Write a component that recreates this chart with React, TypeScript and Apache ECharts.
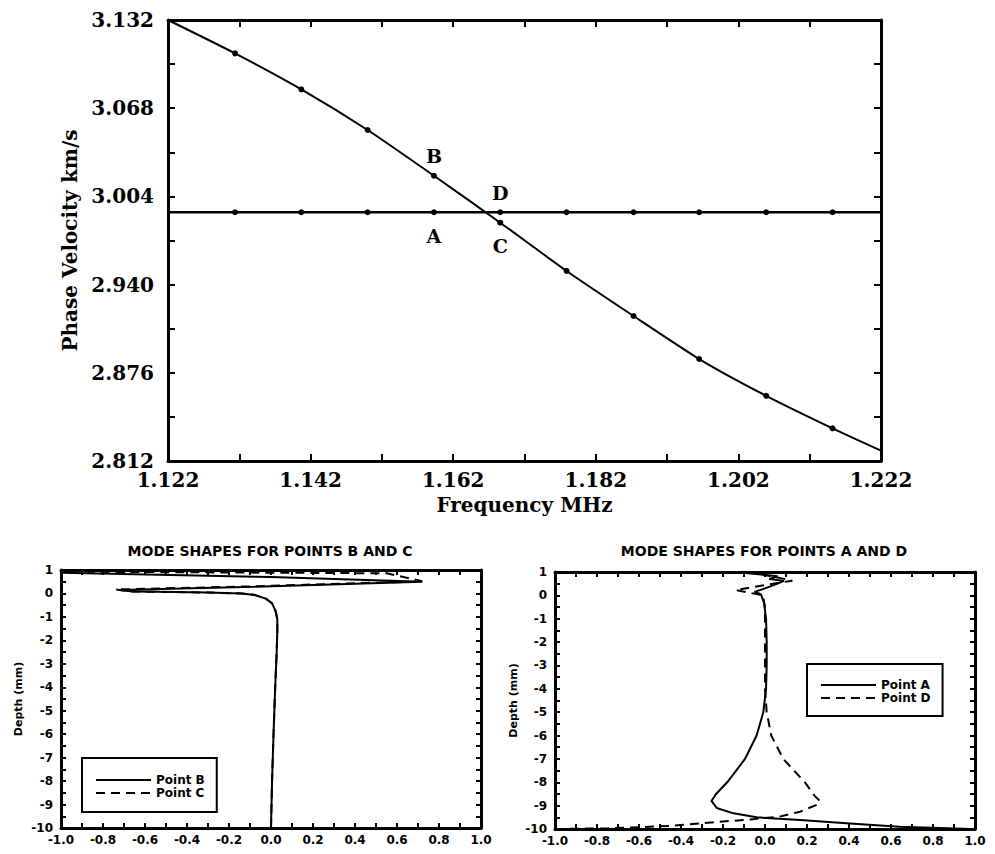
import React, { useEffect, useRef } from "react";
import * as echarts from "echarts";

// ---------- Top chart data ----------
const frequency = [1.122, 1.1314, 1.1407, 1.15, 1.1593, 1.1686, 1.1779, 1.1873, 1.1965, 1.2059, 1.2152, 1.222];
const velocityCurve = [3.132, 3.1078, 3.0817, 3.0522, 3.019, 2.9849, 2.9499, 2.9172, 2.886, 2.8593, 2.8357, 2.8195];
const velocityFlat = [2.9925, 2.9925, 2.9925, 2.9925, 2.9925, 2.9925, 2.9925, 2.9925, 2.9925, 2.9925, 2.9925, 2.9925];
const freqLabels = [1.122, 1.142, 1.162, 1.182, 1.202, 1.222];
const freqTicks = [1.122, 1.132, 1.142, 1.152, 1.162, 1.172, 1.182, 1.192, 1.202, 1.212, 1.222];
const velLabels = [2.812, 2.876, 2.94, 3.004, 3.068, 3.132];
const velTicks = [2.812, 2.844, 2.876, 2.908, 2.94, 2.972, 3.004, 3.036, 3.068, 3.1, 3.132];
const curveLabels: Record<number, [string, string]> = { 4: ["B", "top"], 5: ["C", "bottom"] };
const flatLabels: Record<number, [string, string]> = { 4: ["A", "bottom"], 5: ["D", "top"] };

// ---------- Mode shapes B and C ----------
const ampB = [0.0, 0.005, 0.012, 0.02, 0.027, 0.03, 0.03, 0.022, 0.005, -0.025, -0.075, -0.14, -0.3, -0.54, -0.66, -0.72, -0.076, 0.72, 0.0, -1.0];
const depthB = [-10, -8, -6, -4, -2.5, -1.6, -1.1, -0.75, -0.42, -0.22, -0.07, 0.0, 0.04, 0.07, 0.08, 0.15, 0.29, 0.5, 0.7, 0.88];
const ampC = [0.0, 0.005, 0.012, 0.02, 0.027, 0.03, 0.03, 0.022, 0.005, -0.025, -0.075, -0.14, -0.3, -0.55, -0.68, -0.74, -0.1, 0.72, 0.55, -1.0];
const depthC = [-10, -8, -6, -4, -2.5, -1.6, -1.1, -0.75, -0.42, -0.22, -0.07, 0.0, 0.04, 0.07, 0.09, 0.17, 0.3, 0.52, 0.86, 0.93];

// ---------- Mode shapes A and D ----------
const ampA = [0.98, 0.64, 0.405, 0.167, -0.04, -0.15, -0.23, -0.255, -0.233, -0.18, -0.095, -0.04, -0.008, 0.005, 0.008, 0.008, 0.005, -0.005, -0.02, -0.05, 0.0, 0.06, 0.09, 0.02, 0.06, -0.03, -0.1];
const depthA = [-10, -9.9, -9.76, -9.62, -9.5, -9.33, -9.1, -8.8, -8.5, -8.0, -7.0, -6.0, -5.0, -4.0, -3.0, -2.0, -1.0, -0.3, 0.05, 0.15, 0.3, 0.5, 0.62, 0.7, 0.82, 0.9, 0.97];
const ampD = [-1.0, -0.75, -0.45, -0.31, -0.07, 0.07, 0.167, 0.25, 0.262, 0.238, 0.19, 0.087, 0.03, 0.008, 0.0, 0.0, 0.0, -0.01, -0.14, 0.0, 0.13, 0.04, -0.04, -0.18];
const depthD = [-10, -9.97, -9.87, -9.76, -9.59, -9.47, -9.26, -8.95, -8.8, -8.6, -8.0, -7.0, -6.0, -5.0, -4.0, -2.0, -0.5, 0.0, 0.23, 0.44, 0.63, 0.8, 0.94, 0.99];

const SERIF = "DejaVu Serif";
const SANS = "DejaVu Sans";

const zip = (a: number[], b: number[]) => a.map((v, i) => [v, b[i]]);

function topPoints(vals: number[], labels: Record<number, [string, string]>) {
  return frequency.map((f, i) => {
    const item: any = { value: [f, vals[i]] };
    if (i === 0 || i === frequency.length - 1) item.symbol = "none";
    const lab = labels[i];
    if (lab) {
      item.label = {
        show: true,
        formatter: lab[0],
        position: lab[1],
        distance: lab[1] === "top" ? 7 : 11,
        fontFamily: SERIF,
        fontWeight: "bold",
        fontSize: 19,
        color: "#000",
      };
    }
    return item;
  });
}

function smallAxesX(grid: number) {
  const base = {
    gridIndex: grid,
    type: "value",
    min: -1,
    max: 1,
    interval: 0.2,
    splitLine: { show: false },
    axisLine: { onZero: false, lineStyle: { color: "#000", width: 3 } },
    axisTick: { inside: true, length: 5, lineStyle: { color: "#000", width: 2 } },
    minorTick: { show: true, splitNumber: 2, length: 5, lineStyle: { color: "#000", width: 2 } },
  };
  return [
    {
      ...base,
      position: "bottom",
      axisLabel: {
        margin: 6,
        formatter: (v: number) => v.toFixed(1),
        fontFamily: SANS,
        fontWeight: "bold",
        fontSize: 12,
        color: "#000",
      },
    },
    { ...base, position: "top", axisLabel: { show: false } },
  ];
}

function smallAxesY(grid: number, gap: number) {
  const base = {
    gridIndex: grid,
    type: "value",
    min: -10,
    max: 1,
    interval: 1,
    splitLine: { show: false },
    axisLine: { onZero: false, lineStyle: { color: "#000", width: 3 } },
    axisTick: { inside: true, length: 5, lineStyle: { color: "#000", width: 2 } },
    minorTick: { show: true, splitNumber: 2, length: 5, lineStyle: { color: "#000", width: 2 } },
  };
  return [
    {
      ...base,
      position: "left",
      name: "Depth (mm)",
      nameLocation: "middle",
      nameGap: gap,
      nameTextStyle: { fontFamily: SANS, fontWeight: "bold", fontSize: 11, color: "#000" },
      axisLabel: {
        margin: 8,
        fontFamily: SANS,
        fontWeight: "bold",
        fontSize: 12,
        color: "#000",
      },
    },
    { ...base, position: "right", axisLabel: { show: false } },
  ];
}

function legendCfg(names: string[], left: number, top: number, pad: number[]) {
  return {
    data: names,
    left,
    top,
    orient: "vertical",
    itemWidth: 55,
    itemHeight: 10,
    itemGap: 1,
    padding: pad,
    borderColor: "#000",
    borderWidth: 2,
    selectedMode: false,
    itemStyle: { color: "rgba(0,0,0,0)", borderWidth: 0, opacity: 0 },
    textStyle: { fontFamily: SANS, fontWeight: "bold", fontSize: 12, color: "#000", lineHeight: 12 },
  };
}

export default function App() {
  const ref = useRef<HTMLDivElement>(null);
  useEffect(() => {
    if (!ref.current) return;
    const chart = echarts.init(ref.current, undefined, { renderer: "svg" });
    const topAxisLine = { onZero: false, lineStyle: { color: "#000", width: 3 } };
    const topTick = { inside: true, length: 7, lineStyle: { color: "#000", width: 2 } };
    const titleStyle = { fontFamily: SANS, fontWeight: "bold", fontSize: 14, color: "#000" };
    const option: any = {
      animation: false,
      backgroundColor: "#fff",
      title: [
        { text: "MODE SHAPES FOR POINTS B AND C", left: 270, top: 544, textAlign: "center", padding: 0, textStyle: titleStyle },
        { text: "MODE SHAPES FOR POINTS A AND D", left: 764, top: 544, textAlign: "center", padding: 0, textStyle: titleStyle },
      ],
      legend: [
        legendCfg(["Point B", "Point C"], 82, 758, [16, 12, 13, 13]),
        legendCfg(["Point A", "Point D"], 807, 664, [15, 12, 12, 13]),
      ],
      grid: [
        { left: 168, top: 20, width: 713, height: 441 },
        { left: 61, top: 570, width: 420, height: 258 },
        { left: 555, top: 572, width: 420, height: 257 },
      ],
      xAxis: [
        {
          gridIndex: 0,
          type: "value",
          position: "bottom",
          min: 1.122,
          max: 1.222,
          splitLine: { show: false },
          axisLine: topAxisLine,
          axisTick: { ...topTick, customValues: freqTicks },
          axisLabel: {
            customValues: freqLabels,
            formatter: (v: number) => v.toFixed(3),
            margin: 9,
            fontFamily: SERIF,
            fontWeight: "bold",
            fontSize: 20,
            color: "#000",
          },
          name: "Frequency MHz",
          nameLocation: "middle",
          nameGap: 34,
          nameTextStyle: { fontFamily: SERIF, fontWeight: "bold", fontSize: 20, color: "#000" },
        },
        {
          gridIndex: 0,
          type: "value",
          position: "top",
          min: 1.122,
          max: 1.222,
          splitLine: { show: false },
          axisLine: topAxisLine,
          axisTick: { ...topTick, customValues: freqTicks },
          axisLabel: { show: false },
        },
        ...smallAxesX(1),
        ...smallAxesX(2),
      ],
      yAxis: [
        {
          gridIndex: 0,
          type: "value",
          position: "left",
          min: 2.812,
          max: 3.132,
          splitLine: { show: false },
          axisLine: topAxisLine,
          axisTick: { ...topTick, customValues: velTicks },
          axisLabel: {
            customValues: velLabels,
            formatter: (v: number) => v.toFixed(3),
            margin: 14,
            fontFamily: SERIF,
            fontWeight: "bold",
            fontSize: 20,
            color: "#000",
          },
          name: "Phase Velocity km/s",
          nameLocation: "middle",
          nameGap: 86,
          nameTextStyle: { fontFamily: SERIF, fontWeight: "bold", fontSize: 20, color: "#000" },
        },
        {
          gridIndex: 0,
          type: "value",
          position: "right",
          min: 2.812,
          max: 3.132,
          splitLine: { show: false },
          axisLine: topAxisLine,
          axisTick: { ...topTick, customValues: velTicks },
          axisLabel: { show: false },
        },
        ...smallAxesY(1, 37),
        ...smallAxesY(2, 36),
      ],
      series: [
        {
          type: "line",
          xAxisIndex: 0,
          yAxisIndex: 0,
          data: topPoints(velocityCurve, curveLabels),
          smooth: 0.2,
          symbol: "circle",
          symbolSize: 6,
          itemStyle: { color: "#000" },
          lineStyle: { color: "#000", width: 2 },
          z: 3,
        },
        {
          type: "line",
          xAxisIndex: 0,
          yAxisIndex: 0,
          data: topPoints(velocityFlat, flatLabels),
          symbol: "circle",
          symbolSize: 6,
          itemStyle: { color: "#000" },
          lineStyle: { color: "#000", width: 2.5 },
          z: 3,
        },
        {
          name: "Point B",
          type: "line",
          xAxisIndex: 2,
          yAxisIndex: 2,
          data: zip(ampB, depthB),
          symbol: "none",
          lineStyle: { color: "#000", width: 2 },
          itemStyle: { color: "#000" },
        },
        {
          name: "Point C",
          type: "line",
          xAxisIndex: 2,
          yAxisIndex: 2,
          data: zip(ampC, depthC),
          symbol: "none",
          lineStyle: { color: "#000", width: 2, type: [9, 6] },
          itemStyle: { color: "#000" },
        },
        {
          name: "Point A",
          type: "line",
          xAxisIndex: 4,
          yAxisIndex: 4,
          data: zip(ampA, depthA),
          symbol: "none",
          lineStyle: { color: "#000", width: 2 },
          itemStyle: { color: "#000" },
        },
        {
          name: "Point D",
          type: "line",
          xAxisIndex: 4,
          yAxisIndex: 4,
          data: zip(ampD, depthD),
          symbol: "none",
          lineStyle: { color: "#000", width: 2, type: [9, 6] },
          itemStyle: { color: "#000" },
        },
      ],
    };
    chart.setOption(option);
    return () => chart.dispose();
  }, []);
  return (
    <div
      ref={ref}
      style={{ position: "fixed", left: 0, top: 0, width: 995, height: 854, background: "#fff" }}
    />
  );
}
